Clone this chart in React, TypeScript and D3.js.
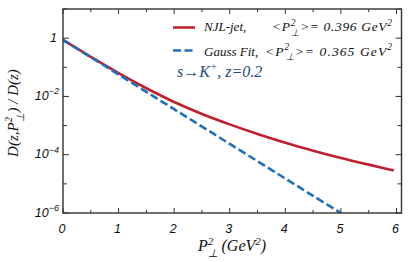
import React from 'react';
import * as d3 from 'd3';

// P_perp^2 sample points (GeV^2) and curve values
const njlX = [0, 0.5, 1, 1.5, 2, 2.5, 3, 3.5, 4, 4.5, 5, 5.5, 5.95];
const njlJet = [0.87, 0.229, 0.063, 0.0191, 6.46e-3, 2.51e-3, 1.1e-3, 5.13e-4, 2.57e-4, 1.38e-4, 7.76e-5, 4.57e-5, 2.88e-5];

const gaussX = [0, 0.5, 1, 1.5, 2, 2.5, 3, 3.5, 4, 4.5, 5];
const gaussFit = [0.872, 0.222, 0.0564, 0.0143, 3.64e-3, 9.26e-4, 2.35e-4, 5.99e-5, 1.52e-5, 3.87e-6, 1e-6];

const xTicks = [0, 1, 2, 3, 4, 5, 6];
const xMinor = [0.5, 1.5, 2.5, 3.5, 4.5, 5.5];
const yLabeled = [1, 1e-2, 1e-4, 1e-6];
const yMinor = [10, 1e-1, 1e-3, 1e-5];
const yLabelExp = ['', '−2', '−4', '−6'];

const legendNames = ['NJL-jet,', 'Gauss Fit,'];
const legendMeans = ['0.396', '0.365'];

const W = 415;
const H = 262;
const margin = { top: 9, right: 13.5, bottom: 49, left: 63 };
const RED = '#c0202e';
const BLUE = '#1f6fba';
const FRAME = '#333';

const SERIF = 'Liberation Serif';
const SANS = 'Liberation Sans';

// P with stacked ^2 and _⊥ ; caller must add dy = size*0.37 back on next tspan
const pPerp = (size: number) => [
  <tspan key="p">P</tspan>,
  <tspan key="s" fontSize={size * 0.7} dy={-size * 0.38}>2</tspan>,
  <tspan key="b" fontSize={size * 0.7} dx={-size * 0.36} dy={size * 0.75}>⊥</tspan>,
];

const App: React.FC = () => {
  const x = d3.scaleLinear().domain([0, 6.09]).range([margin.left, W - margin.right]);
  const y = d3.scaleLog().domain([1e-6, 10]).range([H - margin.bottom, margin.top]);

  const line = d3.line<[number, number]>()
    .x(d => x(d[0]))
    .y(d => y(d[1]))
    .curve(d3.curveCatmullRom);

  const njlPath = line(njlX.map((v, i) => [v, njlJet[i]]) as [number, number][]) || '';
  const gaussPath = line(gaussX.map((v, i) => [v, gaussFit[i]]) as [number, number][]) || '';

  const x0 = margin.left;
  const x1 = W - margin.right;
  const y0 = H - margin.bottom;
  const y1 = margin.top;

  return (
    <svg width={W} height={H} style={{ position: 'absolute', left: 0, top: 0, background: 'white' }}>
      <rect width={W} height={H} fill="white" />

      <defs>
        <clipPath id="plot">
          <rect x={x0} y={y1} width={x1 - x0} height={y0 - y1} />
        </clipPath>
      </defs>
      <g clipPath="url(#plot)">
        <path d={njlPath} fill="none" stroke={RED} strokeWidth={2.6} />
        <path d={gaussPath} fill="none" stroke={BLUE} strokeWidth={2.6} strokeDasharray="8,3.5" />
      </g>

      {/* frame */}
      <rect x={x0} y={y1} width={x1 - x0} height={y0 - y1} fill="none" stroke={FRAME} strokeWidth={1.4} />

      {/* x ticks */}
      {xTicks.map(t => (
        <g key={'xt' + t}>
          <line x1={x(t)} x2={x(t)} y1={y0} y2={y0 - 5} stroke={FRAME} strokeWidth={1} />
          <line x1={x(t)} x2={x(t)} y1={y1} y2={y1 + 5} stroke={FRAME} strokeWidth={1} />
          <text x={x(t) - 1} y={232.5} textAnchor="middle" fontFamily={SANS} fontStyle="italic" fontSize={12.5} fill="#111">{t}</text>
        </g>
      ))}
      {xMinor.map(t => (
        <g key={'xm' + t}>
          <line x1={x(t)} x2={x(t)} y1={y0} y2={y0 - 3} stroke={FRAME} strokeWidth={1} />
          <line x1={x(t)} x2={x(t)} y1={y1} y2={y1 + 3} stroke={FRAME} strokeWidth={1} />
        </g>
      ))}

      {/* y ticks */}
      {yLabeled.map((t, i) => (
        <g key={'yt' + i}>
          <line x1={x0} x2={x0 + 6} y1={y(t)} y2={y(t)} stroke={FRAME} strokeWidth={1} />
          <line x1={x1} x2={x1 - 6} y1={y(t)} y2={y(t)} stroke={FRAME} strokeWidth={1} />
          <text x={i === 0 ? 57 : 59} y={y(t) + 3.5} textAnchor="end" fontFamily={SANS} fontStyle="italic" fontSize={12.5} fill="#111">
            {i === 0 ? '1' : [
              <tspan key="b">10</tspan>,
              <tspan key="e" fontSize={9} dy={-5.5}>{yLabelExp[i]}</tspan>,
            ]}
          </text>
        </g>
      ))}
      {yMinor.map((t, i) => (
        <g key={'ym' + i}>
          <line x1={x0} x2={x0 + 4} y1={y(t)} y2={y(t)} stroke={FRAME} strokeWidth={1} />
          <line x1={x1} x2={x1 - 4} y1={y(t)} y2={y(t)} stroke={FRAME} strokeWidth={1} />
        </g>
      ))}

      {/* axis titles */}
      <text x={232} y={251} textAnchor="middle" fontFamily={SERIF} fontStyle="italic" fontSize={16} fill="#111">
        {pPerp(16)}
        <tspan dx={4} dy={-16 * 0.37}>(GeV</tspan>
        <tspan fontSize={11} dy={-6.5}>2</tspan>
        <tspan dy={6.5}>)</tspan>
      </text>
      <text transform="translate(18,113) rotate(-90)" textAnchor="middle" fontFamily={SERIF} fontStyle="italic" fontSize={15} fill="#111">
        <tspan>D(z,</tspan>
        {pPerp(15)}
        <tspan dx={1} dy={-15 * 0.37}>) / D(z)</tspan>
      </text>

      {/* legend */}
      {legendNames.map((name, i) => {
        const ly = i === 0 ? 27.5 : 50.5;
        const by = i === 0 ? 31 : 55.5;
        return (
          <g key={'lg' + i}>
            <line x1={173} x2={195} y1={ly} y2={ly} stroke={i === 0 ? RED : BLUE} strokeWidth={2.6}
              strokeDasharray={i === 0 ? undefined : '8,3.5'} />
            <text x={204} y={by} fontFamily={SERIF} fontStyle="italic" fontSize={13} fill="#111">{name}</text>
            <text x={i === 0 ? 272 : 265} y={by} textLength={i === 0 ? 120 : 127} lengthAdjust="spacing"
              fontFamily={SERIF} fontStyle="italic" fontSize={13.5} fill="#111">
              <tspan>&lt;</tspan>
              {pPerp(13.5)}
              <tspan dy={-13.5 * 0.37}>&gt;= {legendMeans[i]} GeV</tspan>
              <tspan fontSize={9.5} dy={-5.5}>2</tspan>
            </text>
          </g>
        );
      })}

      {/* annotation */}
      <text x={177} y={77} fontFamily={SERIF} fontStyle="italic" fontSize={16} fill="#1d4e7c">
        <tspan>s→K</tspan>
        <tspan fontSize={11} dy={-7}>+</tspan>
        <tspan dy={7}>, z=0.2</tspan>
      </text>
    </svg>
  );
};

export default App;
